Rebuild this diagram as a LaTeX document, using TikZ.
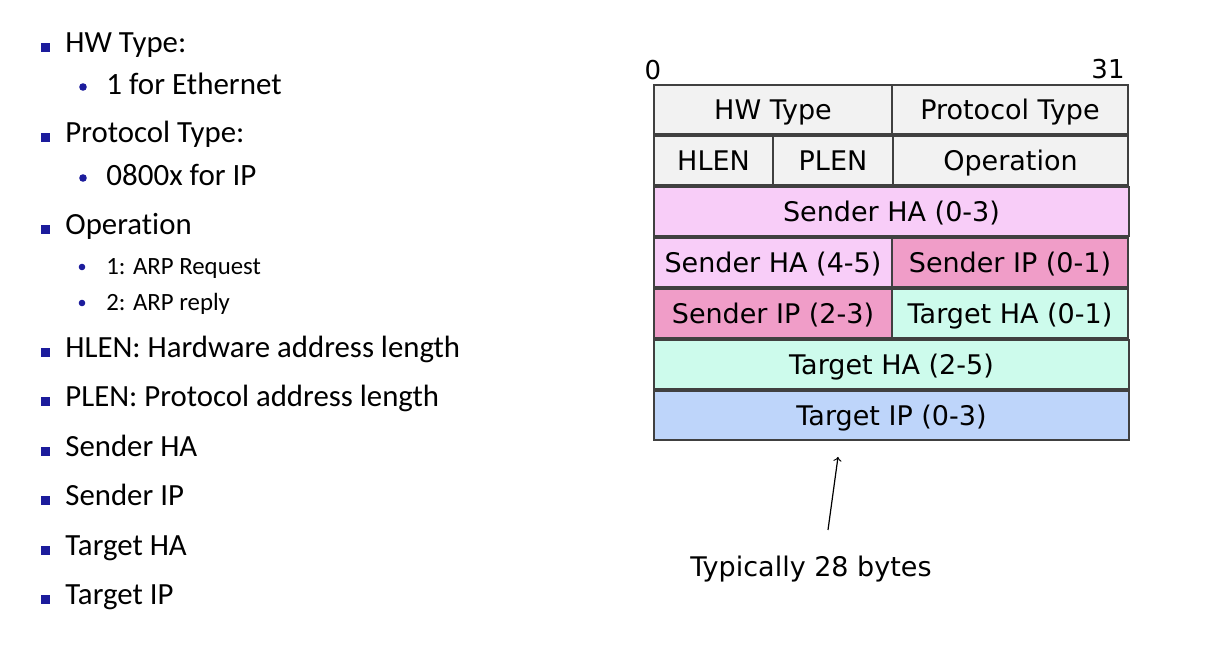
\documentclass[tikz,border=0pt]{standalone}
\usepackage{fontspec}
\setmainfont{Carlito}[Ligatures=NoCommon]
\newfontfamily\fieldfont{DejaVu Sans}
\usetikzlibrary{positioning}

\definecolor{bulletblue}{HTML}{1C1C9C}
\definecolor{hdrgray}{HTML}{F2F2F2}
\definecolor{senderha}{HTML}{F8CDF8}
\definecolor{senderip}{HTML}{F09DC8}
\definecolor{targetha}{HTML}{CDFBEC}
\definecolor{targetip}{HTML}{BED5FA}

\tikzset{
  field/.style={draw=black!75, line width=0.6pt, inner sep=0pt, outer sep=0pt, minimum height=24.5pt,
    text height=10.5pt, text depth=0pt,
    anchor=north west, font=\fieldfont\fontsize{13.5}{15}\selectfont},
  bitlabel/.style={inner sep=0pt, font=\fieldfont\fontsize{13}{15}\selectfont},
  note/.style={inner sep=0pt, font=\fieldfont\fontsize{13.5}{15}\selectfont},
  item/.style={anchor=base west, inner sep=0pt, font=\fontsize{15.4}{18}\selectfont},
  subitem/.style={anchor=base west, inner sep=0pt, font=\fontsize{15.5}{18}\selectfont},
  subsubitem/.style={anchor=base west, inner sep=0pt, font=\fontsize{12.4}{15}\selectfont},
  sqbullet/.style={fill=bulletblue, minimum size=4.5pt, inner sep=0pt},
  dotbullet/.style={circle, fill=bulletblue, minimum size=3.8pt, inner sep=0pt}
}

\begin{document}
\begin{tikzpicture}[x=0.5pt,y=-0.5pt]
    \useasboundingbox (0,0) rectangle (1222,656);

    % left list
    \foreach \y/\t [count=\i] in {53/HW Type:, 143/Protocol Type:, 235/Operation,
        358/HLEN: Hardware address length, 407/PLEN: Protocol address length,
        457/Sender HA, 506/Sender IP, 556/Target HA, 605/Target IP}
    {
        \node[sqbullet] (sq\i) at (45,\y-5.5) {};
        \node[item] (item\i) at (65,\y) {\t};
    }
    \node[dotbullet] (dot1) at (83,87) {};
    \node[subitem] (sub1) at (106,95) {1 for Ethernet};
    \node[dotbullet] (dot2) at (83,178) {};
    \node[subitem] (sub2) at (106,186) {0800x for IP};
    \node[dotbullet, minimum size=3.3pt] (dot3) at (82,267) {};
    \node[subsubitem] (sub3) at (106,275) {1: ARP Request};
    \node[dotbullet, minimum size=3.3pt] (dot4) at (82,303) {};
    \node[subsubitem] (sub4) at (106,311) {2: ARP reply};

    % packet format
    \node[bitlabel] (bit0) at (653,70) {0};
    \node[bitlabel] (bit31) at (1108,69) {31};

    \node[field, fill=hdrgray, minimum width=119pt] (hw) at (654,85) {HW Type};
    \node[field, fill=hdrgray, minimum width=118pt, right=0pt of hw] (ptype) {Protocol Type};

    \node[field, fill=hdrgray, minimum width=59.5pt] (hlen) at (654,136) {HLEN};
    \node[field, fill=hdrgray, minimum width=60pt, right=0pt of hlen] (plen) {PLEN};
    \node[field, fill=hdrgray, minimum width=117.5pt, right=0pt of plen] (oper) {Operation};

    \node[field, fill=senderha, minimum width=237.5pt] (shaA) at (654,187) {Sender HA (0-3)};

    \node[field, fill=senderha, minimum width=119pt] (shaB) at (654,238) {Sender HA (4-5)};
    \node[field, fill=senderip, minimum width=118pt, right=0pt of shaB] (sipA) {Sender IP (0-1)};

    \node[field, fill=senderip, minimum width=119pt] (sipB) at (654,289) {Sender IP (2-3)};
    \node[field, fill=targetha, minimum width=118pt, right=0pt of sipB] (thaA) {Target HA (0-1)};

    \node[field, fill=targetha, minimum width=237.5pt] (thaB) at (654,340) {Target HA (2-5)};
    \node[field, fill=targetip, minimum width=237.5pt] (tipA) at (654,391) {Target IP (0-3)};

    % size note
    \node[note] (bytes) at (811,569) {Typically 28 bytes};
    \coordinate (tail) at (828,530);
    \coordinate (tip) at (838,457);
    \draw[->, line width=0.6pt] (tail) -- (tip);
\end{tikzpicture}
\end{document}
